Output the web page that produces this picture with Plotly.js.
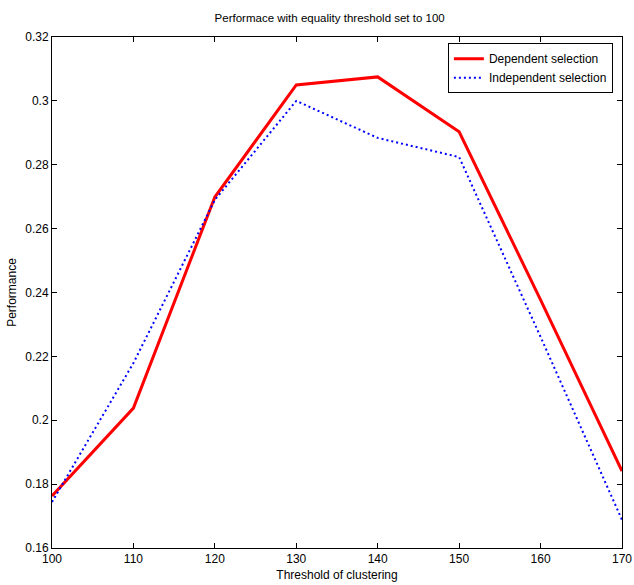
<!DOCTYPE html>
<html>
<head>
<meta charset="utf-8">
<script src="https://cdn.plot.ly/plotly-3.0.1.min.js"></script>
<style>html,body{margin:0;padding:0;background:#fff;}#chart{width:634px;height:585px;}</style>
</head>
<body>
<div id="chart"></div>
<script>
const thresholds = [100, 110, 120, 130, 140, 150, 160, 170];
const dependentSelection = [0.1763, 0.2038, 0.2699, 0.3050, 0.3075, 0.2903, 0.2377, 0.1841];
const independentSelection = [0.1744, 0.2179, 0.2690, 0.3000, 0.2884, 0.2824, 0.2261, 0.1688];
const xTicks = [100, 110, 120, 130, 140, 150, 160, 170];
const yTicks = [0.16, 0.18, 0.2, 0.22, 0.24, 0.26, 0.28, 0.3, 0.32];
const yTickLabels = ['0.16', '0.18', '0.2', '0.22', '0.24', '0.26', '0.28', '0.3', '0.32'];

const font = {family: 'Liberation Sans, Arial, sans-serif', size: 11.5, color: '#000'};

const traces = [
  {x: thresholds, y: dependentSelection, name: 'Dependent selection', mode: 'lines',
   line: {color: '#ff0000', width: 3}},
  {x: thresholds, y: independentSelection, name: 'Independent selection', mode: 'lines',
   line: {color: '#0000ff', width: 2, dash: '2px,3px'}}
];

const layout = {
  width: 634, height: 585,
  margin: {l: 52, r: 12, t: 37, b: 37},
  paper_bgcolor: '#fff', plot_bgcolor: '#fff',
  font: font,
  title: {text: 'Performace with equality threshold set to 100', font: {family: font.family, size: 11.5},
          x: 0.52, xanchor: 'center', y: 0.969, yanchor: 'middle'},
  xaxis: {range: [100, 170], tickvals: xTicks, ticktext: xTicks.map(String),
          ticks: 'inside', ticklen: 5, tickcolor: '#000', showline: true, linecolor: '#000', linewidth: 1,
          mirror: 'ticks', showgrid: false, zeroline: false, tickfont: {size: 12},
          title: {text: 'Threshold of clustering', font: {size: 12}, standoff: 5}},
  yaxis: {range: [0.16, 0.32], tickvals: yTicks, ticktext: yTickLabels,
          ticks: 'inside', ticklen: 5, tickcolor: '#000', showline: true, linecolor: '#000', linewidth: 1,
          mirror: 'ticks', showgrid: false, zeroline: false, tickfont: {size: 12},
          title: {text: 'Performance', font: {size: 12}, standoff: 6}},
  legend: {x: 0.984, xanchor: 'right', y: 0.988, yanchor: 'top', bgcolor: '#fff',
           bordercolor: '#000', borderwidth: 1, font: {size: 12}, tracegroupgap: 0,
           itemwidth: 30},
  showlegend: true
};

Plotly.newPlot('chart', traces, layout, {staticPlot: true, displayModeBar: false});
</script>
</body>
</html>
